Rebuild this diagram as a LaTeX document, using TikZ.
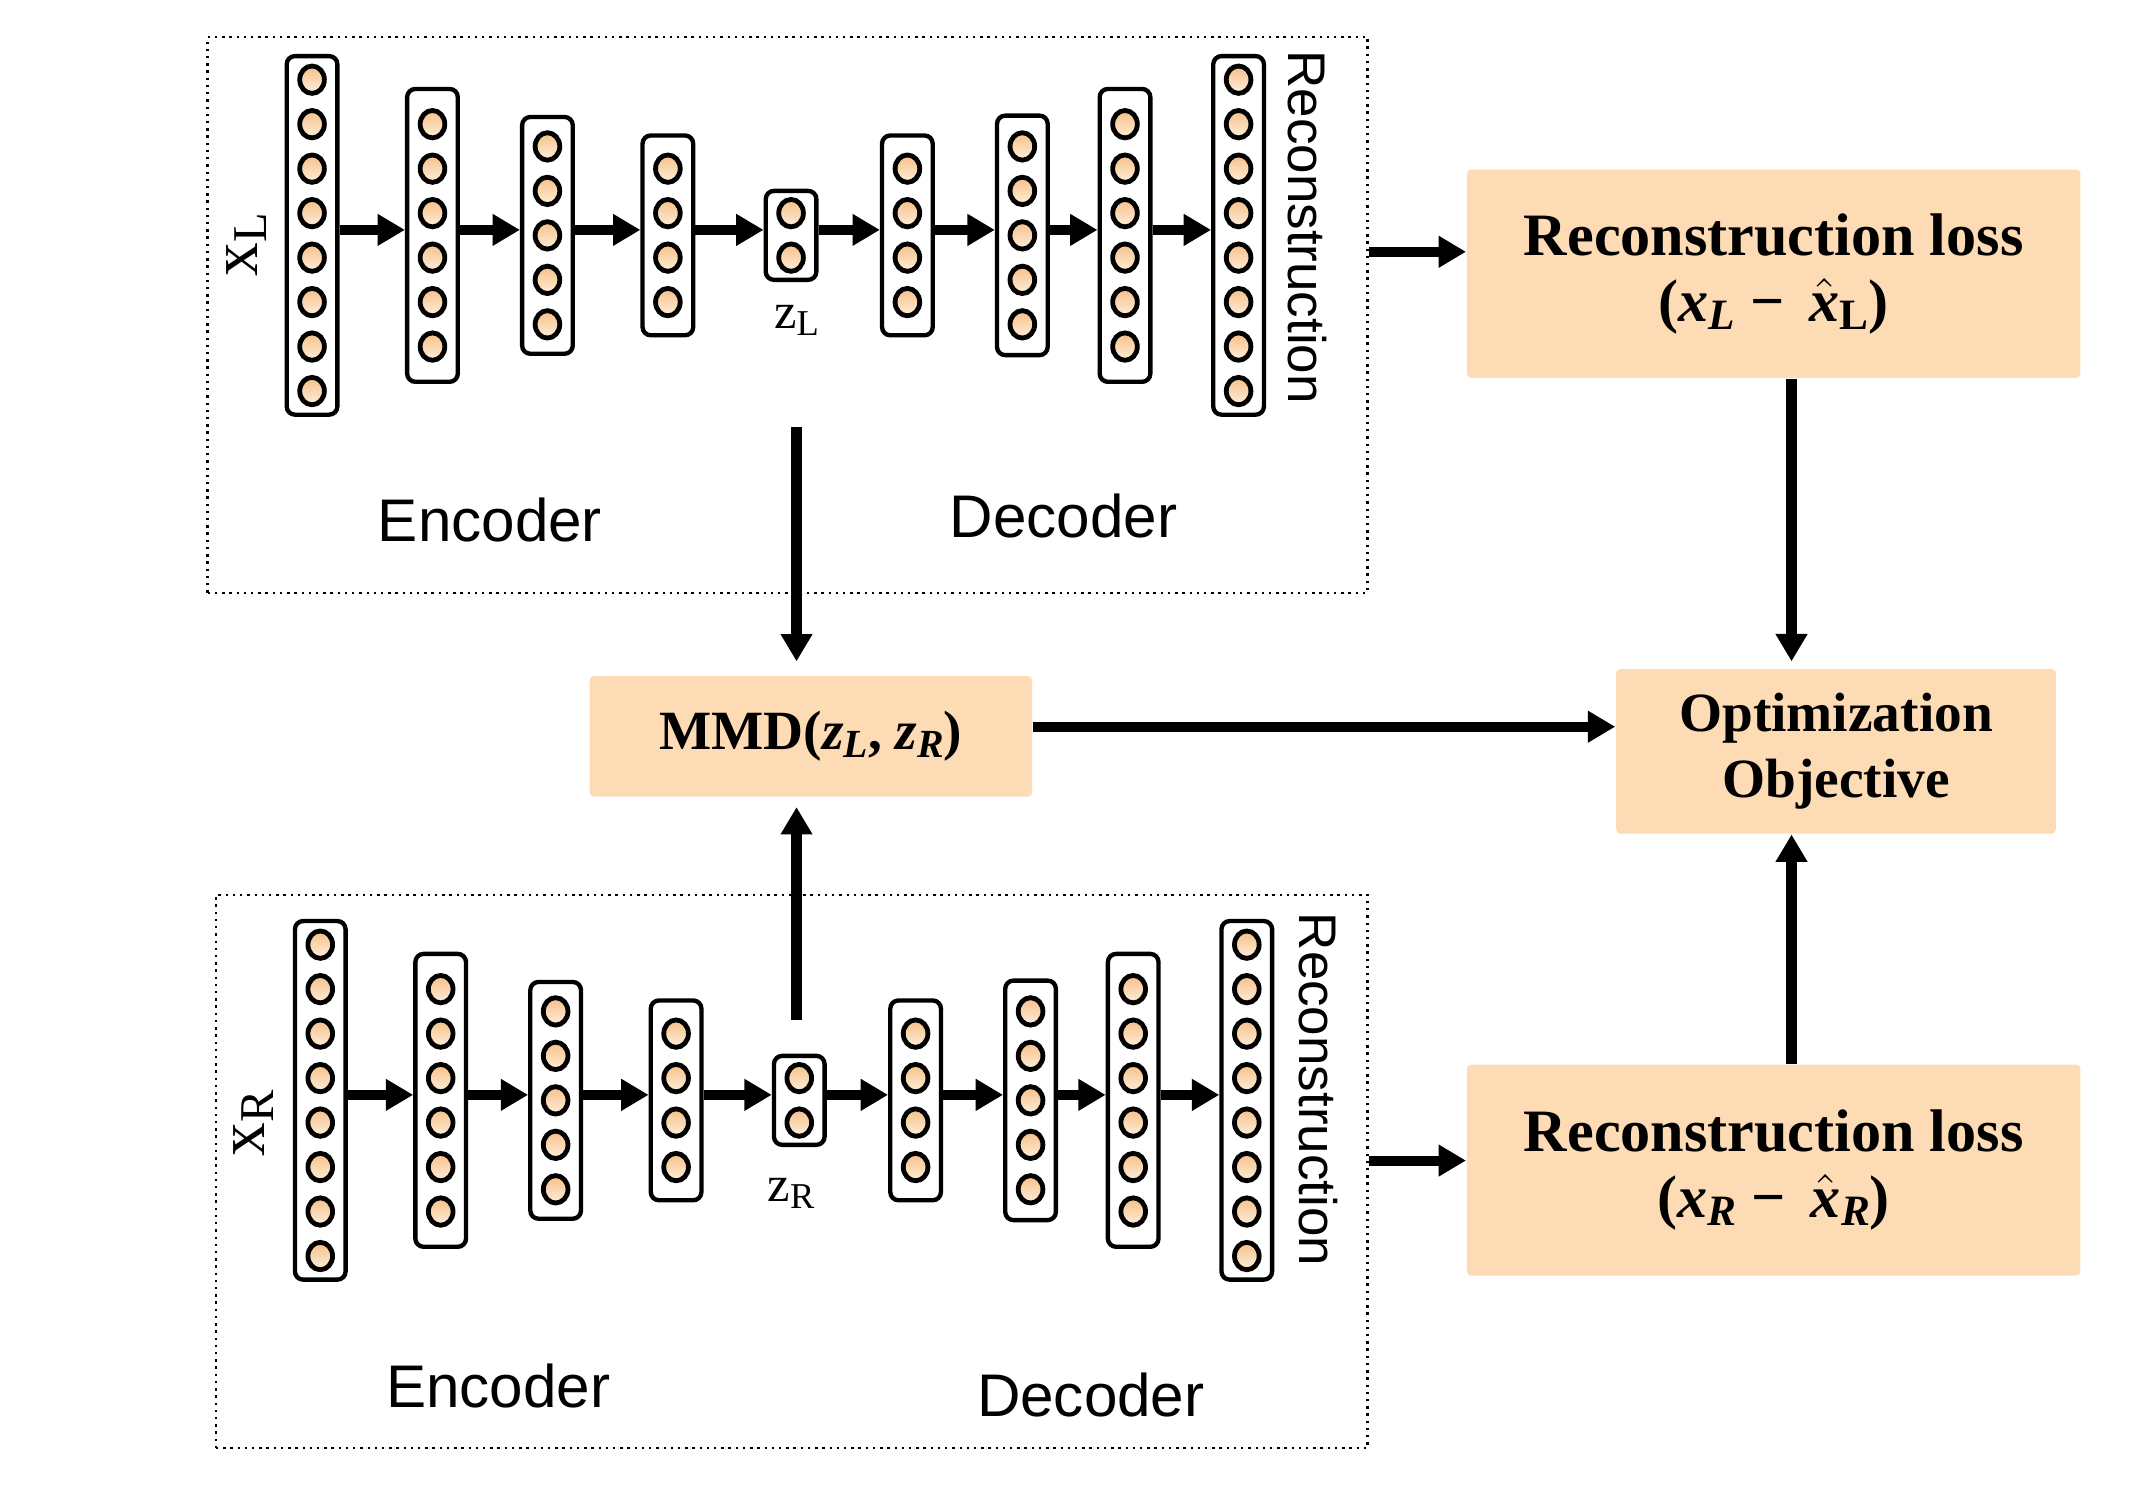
\documentclass[tikz,border=0pt]{standalone}
\usepackage{fontspec}
\setmainfont{Liberation Serif}
\newfontfamily\arialfont{Liberation Sans}
\usetikzlibrary{arrows.meta}

\definecolor{boxfill}{RGB}{253,219,181}
\definecolor{cellTop}{RGB}{245,192,136}
\definecolor{cellBot}{RGB}{255,238,218}

\newcommand\lsub[1]{\raisebox{-0.3ex}{\scalebox{0.72}{#1}}}
\newcommand\hatx{\(\hat{\mbox{\bfseries\itshape x}}\)}

\tikzset{
  layer/.style={draw, line width=0.9pt, rounded corners=0.06cm, minimum width=0.37cm, inner sep=0pt},
  cell/.style={draw, line width=1pt, top color=cellTop, bottom color=cellBot},
  flow/.style={line width=2.1pt, -{Triangle[length=0.2cm,width=0.22cm]}},
  netbox/.style={draw, densely dotted, line width=0.5pt, inner sep=0pt},
  lossbox/.style={fill=boxfill, rounded corners=0.03cm, inner sep=0pt, align=center,
    font=\fontsize{12.5}{13.7}\selectfont\bfseries},
  sans/.style={font=\arialfont\fontsize{12.5}{12.5}\selectfont},
}

\begin{document}
\begin{tikzpicture}[x=0.01cm, y=-0.01cm]
    \useasboundingbox (0,0) rectangle (1568,1086);

    % dotted frames of the two autoencoders
    \node[netbox, minimum width=8.47cm, minimum height=4.06cm] (netL) at (575.5,230) {};
    \node[netbox, minimum width=8.41cm, minimum height=4.04cm] (netR) at (578.5,856) {};

    \foreach \net/\dx/\dy in {L/0/0, R/6/632}{
      \foreach \x/\n/\h [count=\i] in {228/8/262, 316/6/214, 400/5/173, 488/4/146, 578/2/65,
                                      663/4/146, 747/5/175, 822/6/214, 905/8/262}{
        \node[layer, minimum height=\h*0.01cm] (\net\i) at (\x+\dx, 172+\dy) {};
        \foreach \k in {1,...,\n}
          \draw[cell] (\x+\dx, {172+\dy+(\k-(\n+1)/2)*32.5}) circle [x radius=0.09cm, y radius=0.1cm];
      }
      \foreach \i [evaluate=\i as \j using int(\i+1)] in {1,...,8}
        \draw[flow] ([yshift=0.04cm]\net\i.east) -- ([yshift=0.04cm]\net\j.west);
    }

    % labels
    \node[rotate=90, font=\fontsize{14}{14}\selectfont] (xL) at (180,179) {x\lsub{L}};
    \node[rotate=90, font=\fontsize{14}{14}\selectfont] (xR) at (185,821) {x\lsub{R}};
    \node[font=\fontsize{10.5}{10.5}\selectfont] (zL) at (582,234) {z\lsub{L}};
    \node[font=\fontsize{10.5}{10.5}\selectfont] (zR) at (578,872) {z\lsub{R}};
    \node[sans] (encL) at (358,380) {Encoder};
    \node[sans] (decL) at (777,377) {Decoder};
    \node[sans] (encR) at (364,1013) {Encoder};
    \node[sans] (decR) at (797,1019) {Decoder};
    \node[rotate=-90, font=\arialfont\fontsize{11}{11}\selectfont] (recTxtL) at (955,166) {Reconstruction};
    \node[rotate=-90, font=\arialfont\fontsize{11}{11}\selectfont] (recTxtR) at (963,796) {Reconstruction};

    % loss boxes
    \node[lossbox, minimum width=4.48cm, minimum height=1.52cm] (recL) at (1296,200)
      {Reconstruction loss\\(\textit{x}\lsub{\textit{L}} − \,\hatx\lsub{L})};
    \node[lossbox, minimum width=4.48cm, minimum height=1.54cm] (recR) at (1296,855)
      {Reconstruction loss\\(\textit{x}\lsub{\textit{R}} − \,\hatx\lsub{\textit{R}})};
    \node[lossbox, minimum width=3.23cm, minimum height=0.88cm, font=\fontsize{11.5}{13}\selectfont\bfseries] (mmd) at (592.5,538)
      {MMD(\textit{z}\lsub{\textit{L}}, \textit{z}\lsub{\textit{R}})};
    \node[lossbox, minimum width=3.21cm, minimum height=1.2cm, font=\fontsize{11.5}{13.7}\selectfont\bfseries] (opt) at (1341.5,549)
      {Optimization\\Objective};

    % connectors
    \coordinate (recLin) at ([yshift=0.16cm]recL.west);
    \coordinate (recRin) at ([yshift=0.07cm]recR.west);
    \draw[flow] (netL.east |- recLin) -- (recLin);
    \draw[flow] (netR.east |- recRin) -- (recRin);
    \coordinate (zLout) at (582,312);
    \coordinate (zRout) at (582,745);
    \draw[flow, shorten >=0.1cm] (zLout) -- (zLout |- mmd.north);
    \draw[flow, shorten >=0.07cm] (zRout) -- (zRout |- mmd.south);
    \draw[flow] ([yshift=0.07cm]mmd.east) -- ([yshift=0.07cm]mmd.east -| opt.west);
    \draw[flow, shorten >=0.05cm] ([xshift=0.13cm]recL.south) -- ([xshift=0.13cm]recL.south |- opt.north);
    \draw[flow] ([xshift=0.13cm]recR.north) -- ([xshift=0.13cm]recR.north |- opt.south);
\end{tikzpicture}
\end{document}
